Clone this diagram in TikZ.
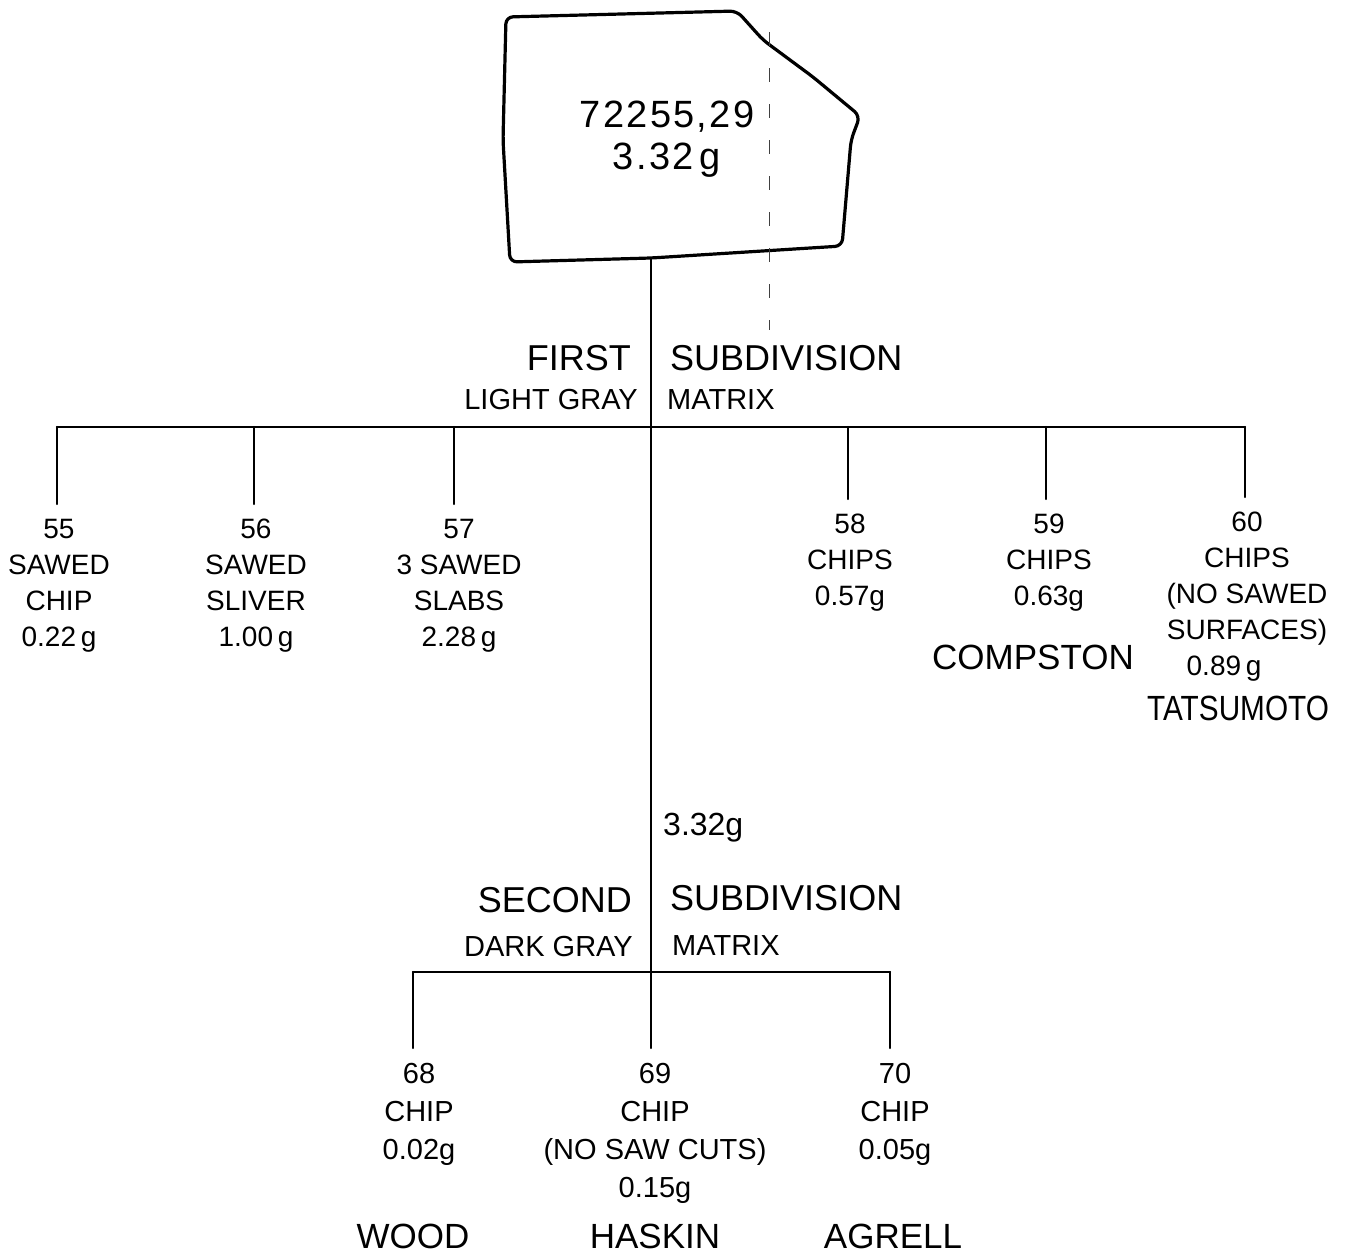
\documentclass[tikz,border=0pt]{standalone}
\usepackage{fontspec}
\setmainfont{Liberation Sans}
\begin{document}
\begin{tikzpicture}[x=1pt,y=-1pt,
  tree/.style={line width=2.4pt, line cap=round},
  boxline/.style={line width=3.2pt, rounded corners=7pt, line join=round},
  leaf/.style={align=center, inner sep=0pt, outer ysep=15pt, anchor=north, font=\fontsize{28}{36}\selectfont},
  leafb/.style={leaf, font=\fontsize{29}{38}\selectfont},
  head/.style={inner sep=0pt, font=\fontsize{36}{40}\selectfont},
  sub/.style={inner sep=0pt, font=\fontsize{29}{32}\selectfont},
  who/.style={inner sep=0pt, font=\fontsize{35}{40}\selectfont},
]
\useasboundingbox (0,0) rectangle (1372,1256);

% sample outline
\draw[boxline] (506,17) -- (737,11) -- (763,40) -- (813,77) -- (860,116) -- (851,140) -- (842,246) -- (651,258) -- (510,262) -- (503,140) -- cycle;
\node[align=center, inner sep=0pt, font=\fontsize{38}{42}\selectfont\addfontfeature{LetterSpace=6}] (root) at (667,139) {72255,29\\3.32\,g};
\draw[line width=1pt, black!75, dash pattern=on 14pt off 22pt] (769,32) -- (769,330);

% junctions
\coordinate (boxbot) at (651,258);
\coordinate (j1) at (651,427);
\coordinate (j55) at (57,427);
\coordinate (j56) at (254,427);
\coordinate (j57) at (454,427);
\coordinate (j58) at (848,427);
\coordinate (j59) at (1046,427);
\coordinate (j60) at (1245,427);
\coordinate (j2) at (651,972);
\coordinate (j68) at (413,972);
\coordinate (j70) at (890,972);

% headings
\node[head, anchor=east] (first) at (631,358) {FIRST};
\node[head, anchor=west] (subdiv1) at (670,358) {SUBDIVISION};
\node[sub, anchor=east] (lgray) at (638,400) {LIGHT GRAY};
\node[sub, anchor=west] (matrix1) at (667,400) {MATRIX};
\node[head, anchor=east] (second) at (632,900) {SECOND};
\node[head, anchor=west] (subdiv2) at (670,898) {SUBDIVISION};
\node[sub, anchor=east] (dgray) at (633,946) {DARK GRAY};
\node[sub, anchor=west] (matrix2) at (672,946) {MATRIX};
\node[inner sep=0pt, anchor=base west, font=\fontsize{32}{36}\selectfont] (mass2) at (663,835) {3.32g};

% first subdivision leaves
\node[leaf] (n55) at (59,504) {55\\SAWED\\CHIP\\0.22\,g};
\node[leaf] (n56) at (256,504) {56\\SAWED\\SLIVER\\1.00\,g};
\node[leaf] (n57) at (459,504) {57\\3 SAWED\\SLABS\\2.28\,g};
\node[leaf] (n58) at (850,499) {58\\CHIPS\\0.57g};
\node[leaf] (n59) at (1049,499) {59\\CHIPS\\0.63g};
\node[leaf] (n60) at (1247,497) {60\\CHIPS\\(NO SAWED\\SURFACES)\\0.89\,g\hspace*{46pt}};
\node[who] (compston) at (1033,657) {COMPSTON};
\node[who] (tatsumoto) at (1238,708) {\scalebox{0.85}[1]{TATSUMOTO}};

% second subdivision leaves
\node[leafb] (n68) at (419,1048) {68\\CHIP\\0.02g};
\node[leafb] (n69) at (655,1048) {69\\CHIP\\(NO SAW CUTS)\\0.15g};
\node[leafb] (n70) at (895,1048) {70\\CHIP\\0.05g};
\node[who] (wood) at (413,1236) {WOOD};
\node[who] (haskin) at (655,1236) {HASKIN};
\node[who] (agrell) at (893,1236) {AGRELL};

% connectors
\draw[tree] (boxbot) -- (j1) -- (j2) -- (j2 |- n69.north);
\draw[tree] (j55) -- (j60);
\draw[tree] (j55) -- (j55 |- n55.north);
\draw[tree] (j56) -- (j56 |- n56.north);
\draw[tree] (j57) -- (j57 |- n57.north);
\draw[tree] (j58) -- (j58 |- n58.north);
\draw[tree] (j59) -- (j59 |- n59.north);
\draw[tree] (j60) -- (j60 |- n60.north);
\draw[tree] (j68) -- (j70);
\draw[tree] (j68) -- (j68 |- n68.north);
\draw[tree] (j70) -- (j70 |- n70.north);
\end{tikzpicture}
\end{document}
